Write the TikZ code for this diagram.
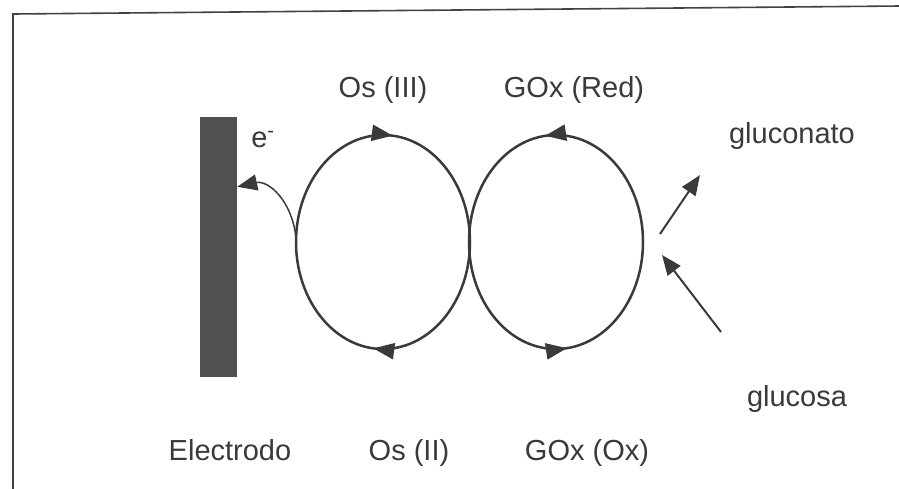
\documentclass[tikz,border=0pt]{standalone}
\usepackage{fontspec}
\setmainfont{Liberation Sans}
\usepackage{tikz}
\definecolor{inkgray}{RGB}{58,58,58}
\definecolor{electrodegray}{RGB}{80,80,80}
\definecolor{framegray}{RGB}{66,66,66}
\usetikzlibrary{shapes.geometric,positioning,arrows.meta,decorations.markings}

\begin{document}
\begin{tikzpicture}[
	x=1pt, y=-1pt,                 % pixel-like grid, y pointing down
	labeltext/.style={
		text=inkgray,               % dark grey text
		font=\fontsize{29}{33}\selectfont,
		inner sep=0pt,
		anchor=base
	},
	cycleline/.style={
		color=inkgray, draw,
		line width=2.5pt,           % redox loop thickness
		postaction={decorate}
	},
	fwdtips/.style={decoration={markings,
		mark=at position 0.266 with {\arrow{Triangle[length=21pt,width=16pt]}},
		mark=at position 0.766 with {\arrow{Triangle[length=21pt,width=16pt]}}}},
	revtips/.style={decoration={markings,
		mark=at position 0.232 with {\arrowreversed{Triangle[length=21pt,width=16pt]}},
		mark=at position 0.732 with {\arrowreversed{Triangle[length=21pt,width=16pt]}}}},
	flowarrow/.style={
		draw=inkgray, line width=2pt,
		-{Triangle[length=20pt,width=16pt]}
	}
]
	\useasboundingbox (0,0) rectangle (899,488);

	% frame
	\draw[framegray, line width=1.6pt] (13,490) -- (13,14) -- (900,6);

	% electrode bar
	\node[
	fill=electrodegray,   % dark grey bar
	rectangle,
	minimum width=37pt,
	minimum height=260pt,
	inner sep=0pt
	] (electrodo) at (218.5,247) {};

	% Os and GOx loops
	\draw[cycleline, fwdtips] (383,242) ellipse [x radius=87, y radius=107];
	\draw[cycleline, revtips] (556,242) ellipse [x radius=87, y radius=107];

	% labels
	\node[labeltext] (osIII) at (383,97) {Os (III)};
	\node[labeltext] (goxRed) at (574,97) {GOx (Red)};
	\node[labeltext] (gluconato) at (792,143) {gluconato};
	\node[labeltext] (glucosa) at (797,406) {glucosa};
	\node[labeltext] (electrodoLbl) at (230,460) {Electrodo};
	\node[labeltext] (osII) at (409,460) {Os (II)};
	\node[labeltext] (goxOx) at (587,460) {GOx (Ox)};
	\node[labeltext] (electron) at (263,147) {e\textsuperscript{-}};

	% electron transfer to the electrode
	\coordinate (osWest) at (296,238);
	\coordinate (elecIn) at ([yshift=-70pt]electrodo.north east);
	\draw[flowarrow, line width=1.5pt] (osWest) .. controls (292,200) and (268,180) .. (elecIn);

	% substrate in, product out
	\coordinate (gcnTail) at (660,234);
	\coordinate (gcnHead) at (700,175);
	\coordinate (glcTail) at (721,332);
	\coordinate (glcHead) at (662,255);
	\draw[flowarrow] (gcnTail) -- (gcnHead);
	\draw[flowarrow] (glcTail) -- (glcHead);
\end{tikzpicture}
\end{document}
